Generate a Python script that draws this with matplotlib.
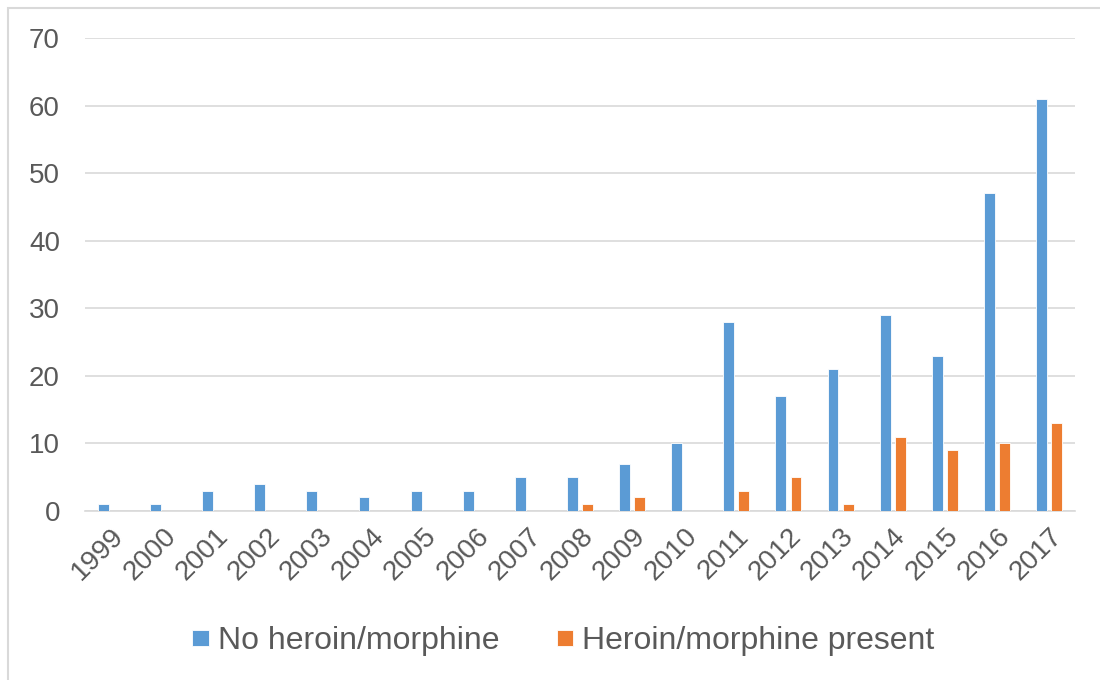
import matplotlib.pyplot as plt
import numpy as np
from matplotlib.patches import Rectangle

years = ['1999', '2000', '2001', '2002', '2003', '2004', '2005', '2006', '2007',
         '2008', '2009', '2010', '2011', '2012', '2013', '2014', '2015', '2016', '2017']
no_heroin = [1, 1, 3, 4, 3, 2, 3, 3, 5, 5, 7, 10, 28, 17, 21, 29, 23, 47, 61]
heroin_present = [0, 0, 0, 0, 0, 0, 0, 0, 0, 1, 2, 0, 3, 5, 1, 11, 9, 10, 13]
yticks = [0, 10, 20, 30, 40, 50, 60, 70]

plt.rcParams['font.family'] = ['Liberation Sans', 'DejaVu Sans']
text_color = '#595959'

fig = plt.figure(figsize=(11, 6.8), dpi=100)
ax = fig.add_axes([85 / 1100, 1 - 511 / 680, 990 / 1100, 473 / 680])

x = np.arange(len(years))
width = 0.21
offset = 0.145
ax.bar(x - offset, no_heroin, width, color='#5B9BD5', edgecolor='white',
       linewidth=0.6, label='No heroin/morphine', zorder=3)
ax.bar(x + offset, [v if v else np.nan for v in heroin_present], width,
       color='#ED7D31', edgecolor='white', linewidth=0.6,
       label='Heroin/morphine present', zorder=3)

ax.set_xlim(-0.5, len(years) - 0.5)
ax.set_ylim(0, 70)
ax.set_yticks(yticks)
ax.set_yticklabels([str(t) for t in yticks])
ax.set_xticks(x)
ax.set_xticklabels(years, rotation=45, ha='right', va='top', rotation_mode='anchor')

ax.grid(axis='y', color='#d9d9d9', linewidth=1.2, zorder=0)
for side in ['top', 'right', 'left']:
    ax.spines[side].set_visible(False)
ax.spines['bottom'].set_color('#d9d9d9')
ax.spines['bottom'].set_linewidth(1.2)
ax.tick_params(axis='both', length=0, labelsize=20, colors=text_color)
ax.tick_params(axis='y', pad=18)
ax.tick_params(axis='x', pad=9)

leg = ax.legend(loc='center', bbox_to_anchor=(0.483, -0.275), ncol=2, frameon=False,
                fontsize=23, handlelength=0.52, handleheight=0.4,
                handletextpad=0.28, columnspacing=1.8)
for t in leg.get_texts():
    t.set_color(text_color)

# chart border
fig.add_artist(Rectangle((8 / 1100, -0.1), 1.2, 1 - 8 / 680 + 0.1,
                         transform=fig.transFigure, fill=False,
                         edgecolor='#d9d9d9', linewidth=1.5))

fig.savefig('out.png', dpi=100)
